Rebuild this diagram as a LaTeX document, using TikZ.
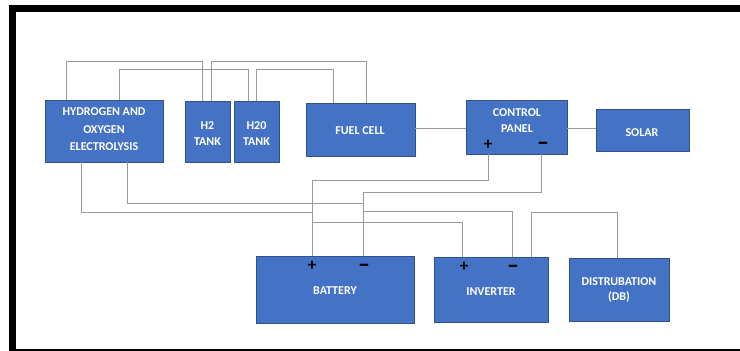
\documentclass[tikz,border=0pt]{standalone}
\usepackage{fontspec}
\setmainfont{Carlito}
\usepackage{graphicx}
\definecolor{boxblue}{HTML}{4472C4}
\definecolor{boxedge}{HTML}{2F528F}
\definecolor{wiregray}{HTML}{9A9A9A}
\begin{document}
\begin{tikzpicture}[x=1pt,y=-1pt,
  box/.style={draw=boxedge,fill=boxblue,line width=0.8pt,inner sep=0pt},
  lbl/.style={text=white,font=\bfseries\fontsize{12}{15.5}\selectfont,align=center,inner sep=0pt},
  wire/.style={draw=wiregray,line width=0.9pt},
  pol/.style={font=\bfseries\fontsize{17}{17}\selectfont,inner sep=0pt},
  neg/.style={font=\bfseries\fontsize{11.5}{11.5}\selectfont,inner sep=0pt}]
\useasboundingbox (0,0) rectangle (740,351);
% frame
\fill (10,5) rectangle (740,11.5);
\fill (9,5) rectangle (15.5,351);
\fill (10,348.8) rectangle (740,350.6);
% boxes
\node[box,minimum width=118,minimum height=62] (elec) at (104,131) {};
\node[box,minimum width=45,minimum height=61] (h2) at (207.5,131.5) {};
\node[box,minimum width=45,minimum height=61] (h20) at (256.5,131.5) {};
\node[box,minimum width=109,minimum height=53] (fuel) at (360.5,129.5) {};
\node[box,minimum width=101,minimum height=54] (ctrl) at (516.5,127) {};
\node[box,minimum width=93,minimum height=42] (solar) at (642.5,130) {};
\node[box,minimum width=158,minimum height=67] (batt) at (335,289.5) {};
\node[box,minimum width=114,minimum height=65] (inv) at (491,289.5) {};
\node[box,minimum width=100,minimum height=63] (db) at (619,289.5) {};
% labels
\node[lbl,font=\bfseries\fontsize{12}{17.5}\selectfont] (telec) at (104,129.5) {HYDROGEN AND\\OXYGEN\\ELECTROLYSIS};
\node[lbl] (th2) at (207.5,133.5) {H2\\TANK};
\node[lbl] (th20) at (256.5,133.5) {H20\\TANK};
\node[lbl] (tfuel) at (360,131) {FUEL CELL};
\node[lbl] (tctrl) at (517,120.5) {CONTROL\\PANEL};
\node[lbl] (tsolar) at (642,133) {SOLAR};
\node[lbl] (tbatt) at (335,291) {BATTERY};
\node[lbl] (tinv) at (491,292) {INVERTER};
\node[lbl] (tdb) at (619,290) {DISTRUBATION\\(DB)};
% polarity marks
\node[pol] (cp) at (488,145) {+};
\node[neg] (cm) at (543,146.5) {\scalebox{1}[2.2]{—}};
\node[pol] (bp) at (312,266) {+};
\node[neg] (bm) at (364,268.5) {\scalebox{1}[2.2]{—}};
\node[pol] (ip) at (464,267) {+};
\node[neg] (im) at (513,269.5) {\scalebox{1}[2.2]{—}};
% top wires
\draw[wire] ([xshift=22]elec.north west) -- ++(0,-38.5) -| ([xshift=18]h2.north west);
\draw[wire] ([xshift=75]elec.north west) -- ++(0,-30) -| ([xshift=15]h20.north west);
\draw[wire] ([xshift=27]h2.north west) -- ++(0,-39.5) -| ([xshift=61]fuel.north west);
\draw[wire] ([xshift=23]h20.north west) -- ++(0,-31) -| ([xshift=28]fuel.north west);
% middle wires
\draw[wire] ([yshift=1.5]fuel.east) -- ([yshift=1.5]fuel.east -| ctrl.west);
\draw[wire] ([yshift=-1]ctrl.east) -- ([yshift=-1]ctrl.east -| solar.west);
% bottom wires
\draw[wire] ([xshift=37]elec.south west) -- ++(0,50) -| ([xshift=57]batt.north west);
\draw[wire] ([xshift=83]elec.south west) -- ++(0,41) -| ([xshift=108]batt.north west);
\draw[wire] ([xshift=23]ctrl.south west) -- ++(0,26) -| ([xshift=57]batt.north west);
\draw[wire] ([xshift=76]ctrl.south west) -- ++(0,38) -| ([xshift=108]batt.north west);
\draw[wire] ([xshift=57]batt.north west) -- ++(0,-33) -| ([xshift=29]inv.north west);
\draw[wire] ([xshift=108]batt.north west) -- ++(0,-44) -| ([xshift=79]inv.north west);
\draw[wire] ([xshift=98]inv.north west) -- ++(0,-44) -| ([xshift=49]db.north west);
\end{tikzpicture}
\end{document}
